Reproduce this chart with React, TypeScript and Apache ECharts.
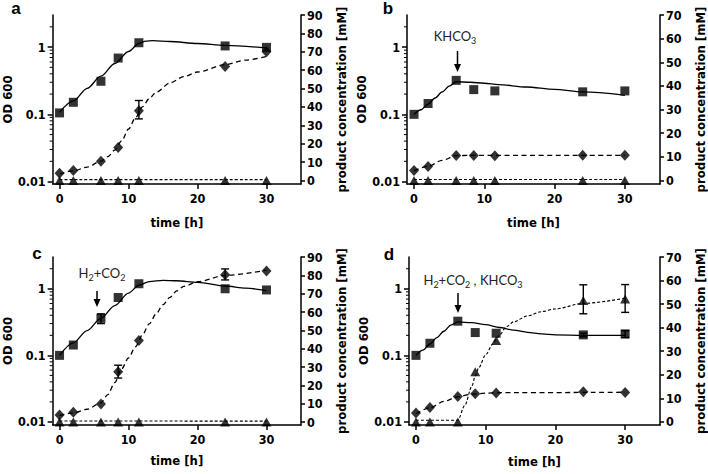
import React, { useEffect, useRef } from 'react';
import * as echarts from 'echarts';

// ---------- data ----------
const TIMES = [0, 2, 6, 8.5, 11.5, 24, 30];
const X_TICKS = [0, 10, 20, 30];
const OD_TICKS = [0.01, 0.1, 1];
const OD_MINOR = [0.02, 0.03, 0.04, 0.05, 0.06, 0.07, 0.08, 0.09, 0.2, 0.3, 0.4, 0.5, 0.6, 0.7, 0.8, 0.9, 2];
const PROD_TICKS_90 = [0, 10, 20, 30, 40, 50, 60, 70, 80, 90];
const PROD_TICKS_70 = [0, 10, 20, 30, 40, 50, 60, 70];

// panel a
const aOD = [0.105, 0.151, 0.31, 0.687, 1.16, 1.04, 0.99];
const aODFit = [[0, 0.107], [2, 0.158], [4, 0.243], [6, 0.37], [8, 0.57], [10, 0.86], [11.5, 1.13], [12.5, 1.23], [13.5, 1.25], [16, 1.21], [20, 1.13], [24, 1.06], [30, 0.97]];
const aProd = [3.9, 5.5, 10.5, 18, 38, 62, 70];
const aProdFit = [[0, 3.6], [2, 5.2], [4, 7.3], [6, 10.5], [7, 13], [8, 16.5], [9, 21.5], [10, 28], [11, 34], [12, 40], [13, 44.5], [14, 48], [16, 53], [18, 56.5], [20, 59], [24, 63], [27, 65.5], [30, 67.5]];
const aTri = [0, 0, 0, 0, 0, 0, 0];
const aTriFit = [[0, 0.5], [30, 0.5]];
const aProdErr = [[11.5, 33.5, 43.5]];

// panel b
const bOD = [0.1, 0.145, 0.32, 0.233, 0.223, 0.216, 0.223];
const bODFit = [[0, 0.1], [1, 0.117], [2, 0.142], [3, 0.175], [4, 0.215], [5, 0.262], [6, 0.305], [8, 0.3], [10, 0.29], [12, 0.277], [16, 0.255], [20, 0.235], [24, 0.215], [30, 0.192]];
const bProd = [4.2, 5.9, 10.6, 10.6, 10.5, 10.7, 10.7];
const bProdFit = [[0, 4.1], [2, 6], [4, 8.5], [6, 10.5], [8, 10.6], [30, 10.6]];
const bTri = [0, 0, 0, 0, 0, 0, 0];
const bTriFit = [[0, 0.4], [30, 0.4]];

// panel c
const cOD = [0.1, 0.143, 0.36, 0.74, 1.19, 1.0, 0.96];
const cODFit = [[0, 0.1], [2, 0.154], [4, 0.236], [6, 0.36], [8, 0.56], [10, 0.86], [11.5, 1.13], [13, 1.28], [15, 1.34], [17, 1.32], [20, 1.25], [24, 1.1], [27, 1.02], [30, 0.94]];
const cProd = [3.8, 5.3, 9.8, 27.4, 44.5, 80.3, 82.3];
const cProdFit = [[0, 3.5], [2, 5], [4, 7], [6, 10.5], [7, 15], [8, 21.5], [9, 29], [10, 35], [11, 41], [12, 47.5], [13, 53.5], [14, 59], [15, 64], [16, 68], [17, 71.5], [18, 74], [20, 76.5], [24, 80], [30, 82.8]];
const cTri = [0, 0, 0, 0, 0, 0, 0];
const cTriFit = [[0, 0.6], [30, 0.5]];
const cODErr = [[6, 0.3, 0.42]];
const cProdErr = [[8.5, 24, 31], [24, 77.5, 83.5]];

// panel d
const dOD = [0.1, 0.152, 0.326, 0.22, 0.215, 0.203, 0.21];
const dODFit = [[0, 0.1], [1, 0.12], [2, 0.148], [3, 0.185], [4, 0.23], [5, 0.285], [6, 0.318], [8, 0.31], [10, 0.29], [12, 0.262], [14, 0.24], [16, 0.222], [18, 0.21], [20, 0.203], [24, 0.2], [30, 0.2]];
const dProd = [3.8, 6.1, 10.8, 12, 12.3, 12.8, 12.5];
const dProdFit = [[0, 3.5], [2, 6], [4, 8.7], [6, 10.7], [8, 11.8], [10, 12.2], [12, 12.4], [30, 12.6]];
const dTri = [0, 0, 0, 21.3, 34.6, 51.5, 52.2];
const dTriFit = [[0, 0.7], [6, 0.7], [7, 7], [8, 15], [8.5, 19.5], [9, 23], [10, 28.5], [11, 33], [11.5, 35], [12, 37], [13, 40.5], [14, 42.5], [16, 45], [18, 46.8], [20, 48], [24, 50.3], [30, 52.5]];
const dODErr = [[24, 0.19, 0.215], [30, 0.185, 0.235]];
const dTriErr = [[24, 45.9, 58.2], [30, 46.5, 58.3]];

// ---------- layout / style ----------
const X_MIN = -1;
const X_MAX = 35;
const FONT_NAME = "'DejaVu Sans Condensed', 'Liberation Sans', sans-serif";
const FONT_TICK = "'DejaVu Sans Condensed', 'Liberation Sans', sans-serif";
const FONT_NOTE = "Lato, 'Open Sans', sans-serif";

const panels = [
  { grid: { left: 47, top: 15, width: 254, height: 169 }, odMin: 0.0092, prodMin: -1.9, prodMax: 90, prodTicks: PROD_TICKS_90,
    od: aOD, odFit: aODFit, prod: aProd, prodFit: aProdFit, tri: aTri, triFit: aTriFit, odErr: [], prodErr: aProdErr, triErr: [], xGap: 32 },
  { grid: { left: 407, top: 15, width: 253, height: 169 }, odMin: 0.0092, prodMin: -1.5, prodMax: 70, prodTicks: PROD_TICKS_70,
    od: bOD, odFit: bODFit, prod: bProd, prodFit: bProdFit, tri: bTri, triFit: bTriFit, odErr: [], prodErr: [], triErr: [], xGap: 32 },
  { grid: { left: 47, top: 257, width: 254, height: 168 }, odMin: 0.009, prodMin: -1.6, prodMax: 90, prodTicks: PROD_TICKS_90,
    od: cOD, odFit: cODFit, prod: cProd, prodFit: cProdFit, tri: cTri, triFit: cTriFit, odErr: cODErr, prodErr: cProdErr, triErr: [], xGap: 29 },
  { grid: { left: 409, top: 257, width: 254, height: 168 }, odMin: 0.009, prodMin: -1.3, prodMax: 70, prodTicks: PROD_TICKS_70,
    od: dOD, odFit: dODFit, prod: dProd, prodFit: dProdFit, tri: dTri, triFit: dTriFit, odErr: dODErr, prodErr: [], triErr: dTriErr, xGap: 30 },
];

const AXIS_LINE = { show: true, onZero: false, lineStyle: { color: '#000', width: 1.5 } };
const tickLabel = { color: '#000', fontFamily: FONT_TICK, fontWeight: 'bold', fontSize: 12.5 };
const nameStyle = { color: '#000', fontFamily: FONT_NAME, fontWeight: 'bold', fontSize: 13 };

function errSeries(data: number[][], xi: number, yi: number) {
  return {
    type: 'custom', xAxisIndex: xi, yAxisIndex: yi, data, z: 5,
    encode: { x: 0, y: [1, 2] },
    renderItem: (_p: any, api: any) => {
      const x = api.value(0);
      const lo = api.coord([x, api.value(1)]);
      const hi = api.coord([x, api.value(2)]);
      const w = 4;
      const style = { stroke: '#000', lineWidth: 1.4 };
      return {
        type: 'group',
        children: [
          { type: 'line', shape: { x1: lo[0], y1: lo[1], x2: hi[0], y2: hi[1] }, style },
          { type: 'line', shape: { x1: lo[0] - w, y1: lo[1], x2: lo[0] + w, y2: lo[1] }, style },
          { type: 'line', shape: { x1: hi[0] - w, y1: hi[1], x2: hi[0] + w, y2: hi[1] }, style },
        ],
      };
    },
  };
}

// minor log ticks on the left axis, placed through the log scale
function minorTickSeries(xi: number, yi: number) {
  return {
    type: 'custom', xAxisIndex: xi, yAxisIndex: yi, clip: false, silent: true, z: 6,
    data: OD_MINOR.map((v) => [X_MIN, v]),
    encode: { x: 0, y: 1 },
    renderItem: (_p: any, api: any) => {
      const c = api.coord([api.value(0), api.value(1)]);
      return { type: 'line', shape: { x1: c[0] - 3, y1: c[1], x2: c[0], y2: c[1] }, style: { stroke: '#000', lineWidth: 1 } };
    },
  };
}

function buildOption() {
  const grid: any[] = [];
  const xAxis: any[] = [];
  const yAxis: any[] = [];
  const series: any[] = [];
  panels.forEach((p, i) => {
    grid.push({ ...p.grid, containLabel: false });
    xAxis.push({
      type: 'value', gridIndex: i, min: X_MIN, max: X_MAX,
      axisLine: AXIS_LINE,
      axisTick: { show: true, customValues: X_TICKS, length: 5, lineStyle: { color: '#000', width: 1.5 } },
      axisLabel: { customValues: X_TICKS, margin: 8, ...tickLabel },
      splitLine: { show: false },
      name: 'time [h]', nameLocation: 'middle', nameGap: p.xGap, nameTextStyle: nameStyle,
    });
    const yi = yAxis.length;
    yAxis.push({
      type: 'log', logBase: 10, gridIndex: i, min: p.odMin, max: 3, position: 'left',
      axisLine: AXIS_LINE,
      axisTick: { show: true, customValues: OD_TICKS, length: 5, lineStyle: { color: '#000', width: 1.5 } },
      axisLabel: { customValues: OD_TICKS, margin: 7, ...tickLabel, formatter: (v: number) => String(+Number(v).toPrecision(3)) },
      splitLine: { show: false }, minorTick: { show: false },
      name: 'OD 600', nameLocation: 'middle', nameGap: 32, nameRotate: 90, nameTextStyle: nameStyle,
    });
    const yr = yAxis.length;
    yAxis.push({
      type: 'value', gridIndex: i, min: p.prodMin, max: p.prodMax, position: 'right',
      axisLine: AXIS_LINE,
      axisTick: { show: true, customValues: p.prodTicks, length: 4, lineStyle: { color: '#000', width: 1.5 } },
      axisLabel: { customValues: p.prodTicks, margin: 6, ...tickLabel },
      splitLine: { show: false },
      name: 'product concentration [mM]', nameLocation: 'middle', nameGap: 34, nameRotate: 90, nameTextStyle: nameStyle,
    });
    const pts = (vals: number[]) => TIMES.map((t, k) => [t, vals[k]]);
    series.push(minorTickSeries(i, yi));
    series.push({ type: 'line', xAxisIndex: i, yAxisIndex: yi, data: p.odFit, showSymbol: false, smooth: 0.3, smoothMonotone: 'x',
      lineStyle: { color: '#000', width: 1.3 }, z: 2, silent: true });
    series.push({ type: 'line', xAxisIndex: i, yAxisIndex: yr, data: p.prodFit, showSymbol: false, smooth: 0.3, smoothMonotone: 'x',
      lineStyle: { color: '#000', width: 1.3, type: [5, 3.5] }, z: 2, silent: true });
    series.push({ type: 'line', xAxisIndex: i, yAxisIndex: yr, data: p.triFit, showSymbol: false, smooth: 0.3, smoothMonotone: 'x',
      lineStyle: { color: '#000', width: 1.1, type: [3, 2] }, z: 2, silent: true });
    series.push({ type: 'scatter', xAxisIndex: i, yAxisIndex: yi, data: pts(p.od), symbol: 'rect', symbolSize: 9,
      itemStyle: { color: '#000' }, z: 3 });
    series.push({ type: 'scatter', xAxisIndex: i, yAxisIndex: yr, data: pts(p.prod), symbol: 'diamond', symbolSize: [10, 11],
      itemStyle: { color: '#000' }, z: 3 });
    series.push({ type: 'scatter', xAxisIndex: i, yAxisIndex: yr, data: pts(p.tri), symbol: 'triangle', symbolSize: [10, 9],
      itemStyle: { color: '#000' }, z: 3 });
    if (p.odErr.length) series.push(errSeries(p.odErr, i, yi));
    if (p.prodErr.length) series.push(errSeries(p.prodErr, i, yr));
    if (p.triErr.length) series.push(errSeries(p.triErr, i, yr));
  });

  const letter = (text: string, x: number, y: number) => ({
    type: 'text', x, y,
    style: { text, fontFamily: "'Liberation Sans', Arial, sans-serif", fontWeight: 'bold', fontSize: 17, fill: '#000', align: 'center', verticalAlign: 'middle' },
  });
  const rich = {
    n: { fontFamily: FONT_NOTE, fontSize: 13, lineHeight: 18, fill: '#222' },
    s: { fontFamily: FONT_NOTE, fontSize: 9, lineHeight: 7, verticalAlign: 'bottom', fill: '#222' },
  };
  const note = (text: string, x: number, y: number) => ({
    type: 'text', x, y, style: { text, rich, align: 'center', verticalAlign: 'middle' },
  });
  const arrow = (x: number, y1: number, y2: number) => ({
    type: 'group',
    children: [
      { type: 'line', shape: { x1: x, y1, x2: x, y2: y2 - 5 }, style: { stroke: '#000', lineWidth: 1.5 } },
      { type: 'polygon', shape: { points: [[x - 3.5, y2 - 8], [x + 3.5, y2 - 8], [x, y2]] }, style: { fill: '#000' } },
    ],
  });

  const graphic = [
    letter('a', 16, 8),
    letter('b', 388, 8),
    letter('c', 37, 253),
    letter('d', 389, 254),
    note('{n|KHCO}{s|3}', 455, 36),
    arrow(457.5, 51, 72),
    note('{n|H}{s|2}{n|+CO}{s|2}', 102, 273),
    arrow(97, 291, 307),
    note('{n|H}{s|2}{n|+CO}{s|2}{n| , KHCO}{s|3}', 473, 280),
    arrow(458, 293, 313),
  ];

  return { animation: false, backgroundColor: '#fff', grid, xAxis, yAxis, series, graphic };
}

export default function App() {
  const ref = useRef<HTMLDivElement>(null);
  useEffect(() => {
    if (!ref.current) return;
    const chart = echarts.init(ref.current, undefined, { renderer: 'svg' });
    chart.setOption(buildOption() as any);
    return () => chart.dispose();
  }, []);
  return <div ref={ref} style={{ position: 'fixed', left: 0, top: 0, width: 708, height: 474, background: '#fff' }} />;
}
